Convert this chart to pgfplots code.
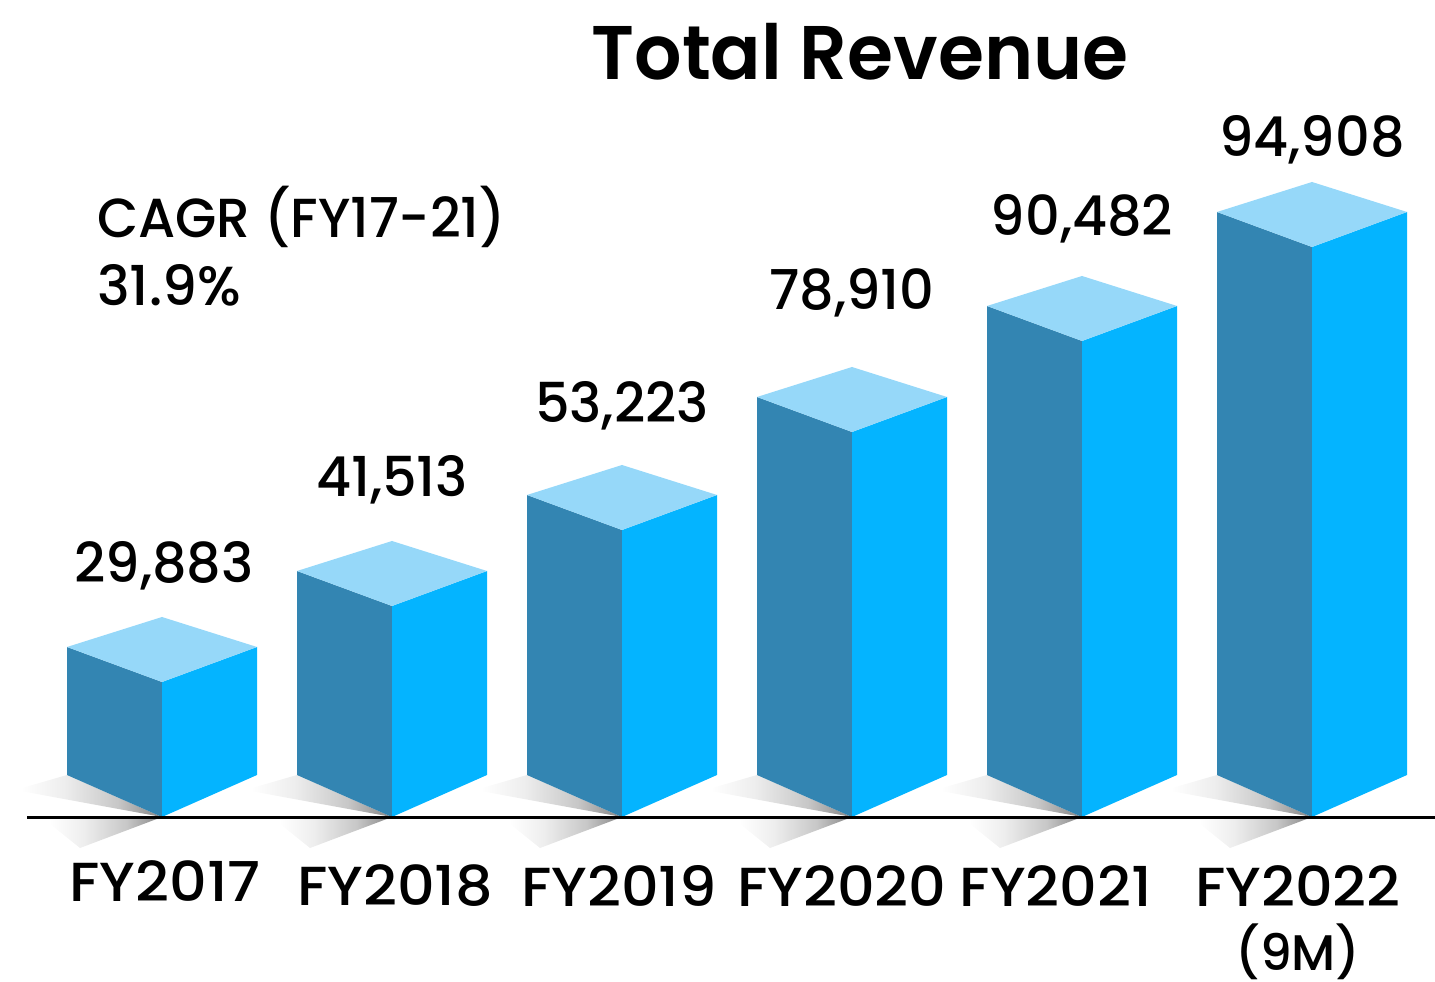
\documentclass[border=0pt]{standalone}
\usepackage{pgfplots}
\usepackage{fontspec}
\setmainfont{Poppins Medium}
\newfontfamily\titlefont{Poppins SemiBold}
\pgfplotsset{compat=1.18}
\definecolor{barDark}{HTML}{3385B2}
\definecolor{barBright}{HTML}{04B4FF}
\definecolor{barTop}{HTML}{96D8F9}
\pgfdeclarehorizontalshading{shfade}{100bp}{color(0bp)=(white); color(27bp)=(white); color(42bp)=(black!7); color(60bp)=(black!22); color(75bp)=(black!48); color(100bp)=(black!48)}
\pgfplotsset{
  L/.style={draw=none,fill=barDark,forget plot},
  R/.style={draw=none,fill=barBright,forget plot},
  T/.style={draw=none,fill=barTop,forget plot},
  SA/.style={draw=none,forget plot,shading=shfade},
}
\newcommand{\lab}[3]{\node[font=\fontsize{55}{60}\selectfont,anchor=center,inner sep=0pt,xscale=0.985] at (axis cs:#1,#2) {#3};}
\newcommand{\cat}[3]{\node[font=\fontsize{55}{60}\selectfont,anchor=center,inner sep=0pt,xscale=1.07] at (axis cs:#1,#2) {#3};}
\begin{document}
\begin{tikzpicture}
\begin{axis}[
  width=1435pt,height=982pt,scale only axis,
  xmin=0,xmax=1435,ymin=-165,ymax=817,
  hide axis,clip=false,
]
% ground shadows
\addplot[SA] coordinates {(15,27) (67,42) (162,0)} -- cycle;
\addplot[SA] coordinates {(45,-3) (80,-31) (162,0)} -- cycle;
\addplot[SA] coordinates {(245,27) (297,42) (392,0)} -- cycle;
\addplot[SA] coordinates {(275,-3) (310,-31) (392,0)} -- cycle;
\addplot[SA] coordinates {(475,27) (527,42) (622,0)} -- cycle;
\addplot[SA] coordinates {(505,-3) (540,-31) (622,0)} -- cycle;
\addplot[SA] coordinates {(705,27) (757,42) (852,0)} -- cycle;
\addplot[SA] coordinates {(735,-3) (770,-31) (852,0)} -- cycle;
\addplot[SA] coordinates {(935,27) (987,42) (1082,0)} -- cycle;
\addplot[SA] coordinates {(965,-3) (1000,-31) (1082,0)} -- cycle;
\addplot[SA] coordinates {(1165,27) (1217,42) (1312,0)} -- cycle;
\addplot[SA] coordinates {(1195,-3) (1230,-31) (1312,0)} -- cycle;
% FY2017 h=135
\addplot[L] coordinates {(67,42) (162,0) (162,135) (67,170)} -- cycle;
\addplot[R] coordinates {(257,42) (162,0) (162,135) (257,170)} -- cycle;
\addplot[T] coordinates {(162,135) (67,170) (162,200) (257,170)} -- cycle;
% FY2018 h=211
\addplot[L] coordinates {(297,42) (392,0) (392,211) (297,246)} -- cycle;
\addplot[R] coordinates {(487,42) (392,0) (392,211) (487,246)} -- cycle;
\addplot[T] coordinates {(392,211) (297,246) (392,276) (487,246)} -- cycle;
% FY2019 h=287
\addplot[L] coordinates {(527,42) (622,0) (622,287) (527,322)} -- cycle;
\addplot[R] coordinates {(717,42) (622,0) (622,287) (717,322)} -- cycle;
\addplot[T] coordinates {(622,287) (527,322) (622,352) (717,322)} -- cycle;
% FY2020 h=385
\addplot[L] coordinates {(757,42) (852,0) (852,385) (757,420)} -- cycle;
\addplot[R] coordinates {(947,42) (852,0) (852,385) (947,420)} -- cycle;
\addplot[T] coordinates {(852,385) (757,420) (852,450) (947,420)} -- cycle;
% FY2021 h=476
\addplot[L] coordinates {(987,42) (1082,0) (1082,476) (987,511)} -- cycle;
\addplot[R] coordinates {(1177,42) (1082,0) (1082,476) (1177,511)} -- cycle;
\addplot[T] coordinates {(1082,476) (987,511) (1082,541) (1177,511)} -- cycle;
% FY2022 h=570
\addplot[L] coordinates {(1217,42) (1312,0) (1312,570) (1217,605)} -- cycle;
\addplot[R] coordinates {(1407,42) (1312,0) (1312,570) (1407,605)} -- cycle;
\addplot[T] coordinates {(1312,570) (1217,605) (1312,635) (1407,605)} -- cycle;
% ground line
\addplot[black,line width=2.4pt,forget plot] coordinates {(27,-0.5) (1435,-0.5)};
% texts
\node[font=\fontsize{76}{80}\selectfont\titlefont,inner sep=0pt,xscale=0.98] at (axis cs:860,765) {Total Revenue};
\lab{164}{251}{29,883}
\lab{392}{337}{41,513}
\lab{622}{411}{53,223}
\lab{852}{524}{78,910}
\lab{1082}{598}{90,482}
\lab{1312}{677}{94,908}
\cat{165}{-64}{FY2017}
\cat{395}{-69}{FY2018}
\cat{619}{-69}{FY2019}
\cat{842}{-69}{FY2020}
\cat{1056}{-69}{FY2021}
\cat{1298}{-69}{FY2022}
\node[font=\fontsize{50}{60}\selectfont,anchor=center,inner sep=0pt] at (axis cs:1298,-135) {(9M)};
\node[font=\fontsize{55}{60}\selectfont,anchor=west,inner sep=0pt,xscale=0.97] at (axis cs:97,600) {CAGR (FY17-21)};
\node[font=\fontsize{55}{60}\selectfont,anchor=west,inner sep=0pt] at (axis cs:97,532) {31.9\%};
\end{axis}
\pgfresetboundingbox
\path (0,0) rectangle (1435pt,982pt);
\end{tikzpicture}
\end{document}
